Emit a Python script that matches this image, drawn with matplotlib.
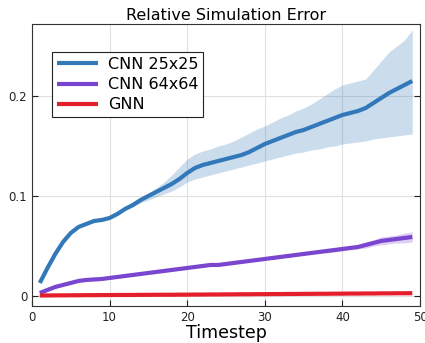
import numpy as np
import matplotlib
matplotlib.use("Agg")
import matplotlib.pyplot as plt

t = np.arange(1, 50)

cnn25_mean = [0.013, 0.028, 0.042, 0.054, 0.063, 0.069, 0.072, 0.075, 0.076, 0.078,
              0.082, 0.087, 0.091, 0.096, 0.100, 0.104, 0.108, 0.112, 0.117, 0.123,
              0.128, 0.131, 0.133, 0.135, 0.137, 0.139, 0.141, 0.144, 0.148, 0.152,
              0.155, 0.158, 0.161, 0.164, 0.166, 0.169, 0.172, 0.175, 0.178, 0.181,
              0.183, 0.185, 0.188, 0.193, 0.198, 0.203, 0.207, 0.211, 0.215]
cnn25_upper = [0.013, 0.028, 0.042, 0.054, 0.063, 0.069, 0.072, 0.075, 0.076, 0.078,
               0.082, 0.088, 0.093, 0.098, 0.103, 0.108, 0.114, 0.121, 0.129, 0.137,
               0.142, 0.145, 0.147, 0.150, 0.152, 0.155, 0.159, 0.163, 0.167, 0.170,
               0.174, 0.178, 0.181, 0.185, 0.188, 0.192, 0.197, 0.202, 0.207, 0.211,
               0.213, 0.215, 0.217, 0.226, 0.235, 0.244, 0.250, 0.256, 0.266]
cnn25_lower = [0.013, 0.028, 0.042, 0.054, 0.063, 0.069, 0.072, 0.075, 0.076, 0.078,
               0.082, 0.086, 0.089, 0.093, 0.096, 0.099, 0.102, 0.105, 0.109, 0.114,
               0.117, 0.119, 0.121, 0.123, 0.125, 0.127, 0.129, 0.131, 0.133, 0.135,
               0.137, 0.139, 0.141, 0.143, 0.144, 0.146, 0.147, 0.149, 0.150, 0.152,
               0.153, 0.154, 0.155, 0.157, 0.158, 0.159, 0.160, 0.161, 0.162]

cnn64_mean = [0.003, 0.006, 0.009, 0.011, 0.013, 0.015, 0.016, 0.0165, 0.017, 0.018,
              0.019, 0.020, 0.021, 0.022, 0.023, 0.024, 0.025, 0.026, 0.027, 0.028,
              0.029, 0.030, 0.031, 0.031, 0.032, 0.033, 0.034, 0.035, 0.036, 0.037,
              0.038, 0.039, 0.040, 0.041, 0.042, 0.043, 0.044, 0.045, 0.046, 0.047,
              0.048, 0.049, 0.051, 0.053, 0.055, 0.056, 0.057, 0.058, 0.059]
cnn64_spread = [0.000, 0.000, 0.000, 0.000, 0.000, 0.000, 0.000, 0.000, 0.000, 0.000,
                0.000, 0.000, 0.000, 0.000, 0.000, 0.000, 0.000, 0.000, 0.000, 0.000,
                0.000, 0.000, 0.000, 0.000, 0.000, 0.000, 0.000, 0.000, 0.001, 0.001,
                0.001, 0.001, 0.001, 0.001, 0.001, 0.001, 0.001, 0.002, 0.002, 0.002,
                0.002, 0.002, 0.003, 0.003, 0.004, 0.004, 0.004, 0.005, 0.005]

gnn_mean = [0.0005, 0.0005, 0.0006, 0.0006, 0.0007, 0.0007, 0.0008, 0.0008, 0.0009, 0.0009,
            0.0010, 0.0010, 0.0010, 0.0011, 0.0011, 0.0012, 0.0012, 0.0012, 0.0013, 0.0013,
            0.0014, 0.0014, 0.0015, 0.0015, 0.0016, 0.0016, 0.0017, 0.0017, 0.0018, 0.0018,
            0.0019, 0.0019, 0.0020, 0.0020, 0.0021, 0.0021, 0.0022, 0.0022, 0.0023, 0.0023,
            0.0024, 0.0024, 0.0025, 0.0025, 0.0026, 0.0026, 0.0027, 0.0027, 0.0028]
gnn_spread = [0.0005] * 49

labels = ["CNN 25x25", "CNN 64x64", "GNN"]
colors = ["#3379b9", "#7a45cf", "#e41e2b"]

fig = plt.figure(figsize=(4.25, 3.43), dpi=100)
ax = fig.add_axes([0.0753, 0.108, 0.913, 0.822])

bands = [
    (cnn25_mean, cnn25_lower, cnn25_upper),
    (cnn64_mean, np.subtract(cnn64_mean, cnn64_spread), np.add(cnn64_mean, cnn64_spread)),
    (gnn_mean, np.subtract(gnn_mean, gnn_spread), np.add(gnn_mean, gnn_spread)),
]
for (m, lo, hi), lab, c in zip(bands, labels, colors):
    ax.fill_between(t, lo, hi, color=c, alpha=0.25, linewidth=0)
    ax.plot(t, m, color=c, linewidth=3, label=lab, solid_capstyle="butt")

ax.set_xlim(0, 50)
ax.set_ylim(-0.01, 0.272)
ax.set_xticks([0, 10, 20, 30, 40, 50])
ax.set_yticks([0, 0.1, 0.2])
ax.set_yticklabels(["0", "0.1", "0.2"])
ax.grid(True, color="#e0e0e0", linewidth=0.8)
ax.set_axisbelow(True)
ax.tick_params(direction="in", labelsize=8.5, colors="#222222", right=True, top=False,
               length=4)
for sp in ax.spines.values():
    sp.set_color("#333333")
    sp.set_linewidth(0.8)

ax.set_title("Relative Simulation Error", fontsize=11.5, pad=3)
ax.set_xlabel("Timestep", fontsize=12.5, labelpad=0)

leg = ax.legend(loc="upper left", bbox_to_anchor=(0.052, 0.90), borderaxespad=0,
                fontsize=11.5, fancybox=False, framealpha=1, edgecolor="#222222",
                handlelength=2.6, borderpad=0.3, labelspacing=0.32, handletextpad=0.6)
leg.get_frame().set_linewidth(0.8)

fig.savefig("out.png", dpi=100)
